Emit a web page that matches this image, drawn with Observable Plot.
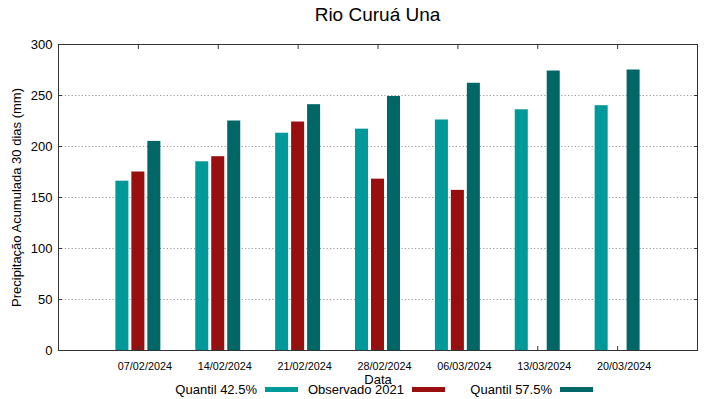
<!DOCTYPE html>
<html>
<head>
<meta charset="utf-8">
<script src="https://cdn.jsdelivr.net/npm/d3@7"></script>
<script src="https://cdn.jsdelivr.net/npm/@observablehq/plot@0.6"></script>
<style>
  html, body { margin: 0; padding: 0; background: #fff; }
  #wrap { position: relative; width: 719px; height: 399px; font-family: "Liberation Sans", Arial, sans-serif; color: #000; overflow: hidden; }
  #title { position: absolute; left: 0; width: 755px; top: 3px; text-align: center; font-size: 19px; line-height: 24px; }
  #chart { position: absolute; left: 0; top: 30px; }
  #legend { position: absolute; top: 380px; left: 0; width: 719px; height: 18px; font-size: 13px; }
  .li { position: absolute; top: 0; display: flex; align-items: center; height: 18px; }
  .sw { display: inline-block; width: 33px; height: 5px; margin-left: 8px; }
</style>
</head>
<body>
<div id="wrap">
  <div id="title">Rio Curuá Una</div>
  <div id="chart"></div>
  <div id="legend"></div>
</div>
<script>
const dates = ["07/02/2024", "14/02/2024", "21/02/2024", "28/02/2024", "06/03/2024", "13/03/2024", "20/03/2024"];
const seriesNames = ["Quantil 42.5%", "Observado 2021", "Quantil 57.5%"];
const seriesColors = ["#009999", "#990e0e", "#006666"];
const quantil425 = [166, 185, 213, 217, 226, 236, 240];
const observado2021 = [175, 190, 224, 168, 157, null, null];
const quantil575 = [205, 225, 241, 249, 262, 274, 275];
const yTicks = [0, 50, 100, 150, 200, 250, 300];

const seriesValues = [quantil425, observado2021, quantil575];
const groupStep = 0.2;   // distance between bars within a group (x units)
const halfBar = 0.0815;  // half bar width (x units)

const rows = [];
seriesValues.forEach((vals, s) => {
  vals.forEach((v, i) => {
    if (v == null) return;
    const c = i + 1 + (s - 1) * groupStep;
    rows.push({series: seriesNames[s], date: dates[i], value: v, x1: c - halfBar, x2: c + halfBar});
  });
});
const groupIdx = dates.map((d, i) => i + 1);

const chart = Plot.plot({
  width: 719,
  height: 358,
  marginLeft: 58,
  marginRight: 22,
  marginTop: 14,
  marginBottom: 38,
  style: {fontFamily: "Liberation Sans, Arial, sans-serif", fontSize: "13px", color: "#000", background: "#fff"},
  x: {domain: [0, 8]},
  y: {domain: [0, 300]},
  color: {domain: seriesNames, range: seriesColors},
  marks: [
    Plot.gridY(yTicks.filter(t => t > 0 && t < 300), {stroke: "#999", strokeOpacity: 1, strokeDasharray: "1.2,2.2"}),
    Plot.rectY(rows, {x1: "x1", x2: "x2", y1: 0, y2: "value", fill: "series"}),
    Plot.axisY(yTicks, {anchor: "left", tickSize: 0, tickPadding: 6, fontSize: 13, label: "Precipitação Acumulada 30 dias (mm)", labelAnchor: "center", labelOffset: 47, labelArrow: "none"}),
    Plot.axisY(yTicks, {anchor: "left", tickSize: -4, text: null, label: null, stroke: "#333"}),
    Plot.axisY(yTicks, {anchor: "right", tickSize: -4, text: null, label: null, stroke: "#333"}),
    Plot.axisX(groupIdx, {anchor: "bottom", tickSize: 0, tickPadding: 12, dx: 6.5, fontSize: 10.8, tickFormat: i => dates[i - 1], label: null}),
    Plot.axisX(groupIdx, {anchor: "bottom", tickSize: 0, text: null, fontSize: 13, label: "Data", labelAnchor: "center", labelOffset: 33, labelArrow: "none"}),
    Plot.axisX(groupIdx, {anchor: "bottom", tickSize: -4, text: null, label: null, stroke: "#333"}),
    Plot.axisX(groupIdx, {anchor: "top", tickSize: -4, text: null, label: null, stroke: "#333"}),
    Plot.frame({stroke: "#333", strokeWidth: 1})
  ]
});
document.getElementById("chart").appendChild(chart);

// legend
const legend = document.getElementById("legend");
const textRight = [257, 404, 552];
seriesNames.forEach((name, i) => {
  const item = document.createElement("div");
  item.className = "li";
  item.style.right = (719 - textRight[i] - 41) + "px";
  const t = document.createElement("span");
  t.textContent = name;
  const sw = document.createElement("span");
  sw.className = "sw";
  sw.style.background = seriesColors[i];
  item.appendChild(t);
  item.appendChild(sw);
  legend.appendChild(item);
});
</script>
</body>
</html>
